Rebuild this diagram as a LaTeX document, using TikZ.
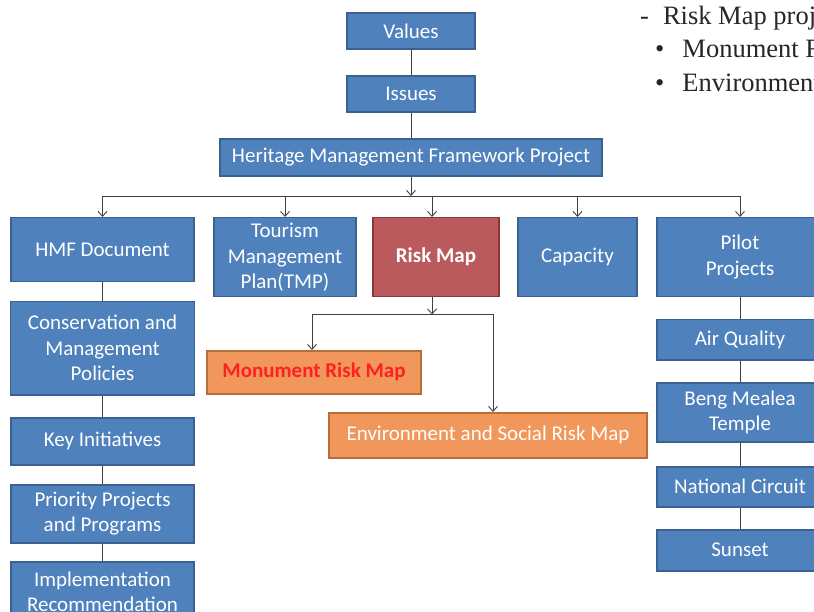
\documentclass[tikz,border=0pt]{standalone}
\usepackage{fontspec}
\setmainfont{Carlito}
\newfontfamily\notefont{Liberation Serif}
\usetikzlibrary{arrows.meta, positioning, calc}
\definecolor{boxblue}{HTML}{4F81BD}
\definecolor{blueedge}{HTML}{3A6190}
\definecolor{boxred}{HTML}{BA5A5C}
\definecolor{rededge}{HTML}{8C3836}
\definecolor{boxorange}{HTML}{F2975C}
\definecolor{orangeedge}{HTML}{B86E35}
\definecolor{linegray}{HTML}{404040}
\definecolor{alertred}{HTML}{FF2020}
\tikzset{block/.style={draw=blueedge, fill=boxblue, line width=1.5pt, text=white,
           align=center, inner sep=0pt, font=\fontsize{21}{25.5}\selectfont},
         riskblock/.style={block, draw=rededge, fill=boxred,
           font=\fontsize{21}{25.5}\selectfont\bfseries},
         mapblock/.style={block, draw=orangeedge, fill=boxorange},
         link/.style={draw=linegray, line width=0.9pt},
         note/.style={anchor=base west, inner sep=0pt, text=black!85,
           font=\notefont\fontsize{26.5}{32}\selectfont},
         >={Straight Barb[length=5pt,width=9pt]}}

\begin{document}
\begin{tikzpicture}[x=1pt, y=-1pt]
        \clip (0,0) rectangle (814,612);
        % top of the tree
        \node[block, minimum width=128pt, minimum height=36pt] (values) at (411,31) {Values};
        \node[block, minimum width=128pt, minimum height=36pt, below=25.5pt of values] (issues) {Issues};
        \node[block, minimum width=382pt, minimum height=37pt, below=25.5pt of issues] (hmfp) {Heritage Management Framework Project};
        \coordinate (bus) at (411,196);

        % second row
        \node[block, minimum width=183pt, minimum height=64pt, anchor=north] (hmfdoc) at (102.5,217) {HMF Document};
        \node[block, minimum width=142pt, minimum height=79pt, anchor=north] (tmp) at (285,217) {Tourism\\Management\\Plan(TMP)};
        \node[riskblock, minimum width=126pt, minimum height=79pt, anchor=north] (risk) at (436,217) {Risk Map};
        \node[block, minimum width=119pt, minimum height=79pt, anchor=north] (capacity) at (577.5,217) {Capacity};
        \node[block, minimum width=166pt, minimum height=79pt, anchor=north] (pilot) at (740,217) {Pilot\\Projects};

        % left column
        \node[block, minimum width=184pt, minimum height=93pt, below=18.5pt of hmfdoc] (conserv) {Conservation and\\Management\\Policies};
        \node[block, minimum width=183pt, minimum height=47pt, below=21.5pt of conserv] (keyinit) {Key Initiatives};
        \node[block, minimum width=183pt, minimum height=58pt, below=18.5pt of keyinit] (priority) {Priority Projects\\and Programs};
        \node[block, minimum width=183pt, minimum height=60pt, below=17.5pt of priority] (implement) {Implementation\\Recommendation};

        % right column
        \node[block, minimum width=166pt, minimum height=40pt, below=21.5pt of pilot] (air) {Air Quality};
        \node[block, minimum width=166pt, minimum height=59pt, below=21.5pt of air] (beng) {Beng Mealea\\Temple};
        \node[block, minimum width=166pt, minimum height=40pt, below=23.5pt of beng] (national) {National Circuit};
        \node[block, minimum width=166pt, minimum height=41pt, below=21.5pt of national] (sunset) {Sunset};

        % risk maps
        \node[mapblock, minimum width=214pt, minimum height=43pt, anchor=north, text=alertred,
              font=\fontsize{21}{25.5}\selectfont\bfseries] (monument) at (314,350) {Monument Risk Map};
        \node[mapblock, minimum width=318pt, minimum height=45pt, anchor=north] (environ) at (488,412) {Environment and Social Risk Map};
        \coordinate (split) at ($(risk.south)+(-4,17)$);

        % note
        \node[note] (rmhead) at (640,25) {-\hspace{14pt}Risk Map project};
        \node[note] (rmitemA) at (655,58) {\textbullet\hspace{18pt}Monument Risk Map};
        \node[note] (rmitemB) at (655,92) {\textbullet\hspace{18pt}Environment and Social Risk Map};

        \draw[link] (values) -- (issues);
        \draw[link] (issues) -- (hmfp);
        \draw[link,->] (hmfp) -- (bus);
        \draw[link] (hmfdoc.north |- bus) -- (pilot.north |- bus);
        \foreach \n in {hmfdoc,tmp,capacity,pilot}
            \draw[link,->] (\n.north |- bus) -- (\n.north);
        \draw[link,->] ([xshift=-4pt]risk.north |- bus) -- ([xshift=-4pt]risk.north);

        \draw[link] (hmfdoc) -- (conserv) -- (keyinit) -- (priority) -- (implement);
        \draw[link] (pilot) -- (air) -- (beng) -- (national) -- (sunset);

        \draw[link,->] ([xshift=-4pt]risk.south) -- (split);
        \draw[link,->] (split) -| ([xshift=-2pt]monument.north);
        \draw[link,->] (split) -| ([xshift=5pt]environ.north);
    \end{tikzpicture}
\end{document}
